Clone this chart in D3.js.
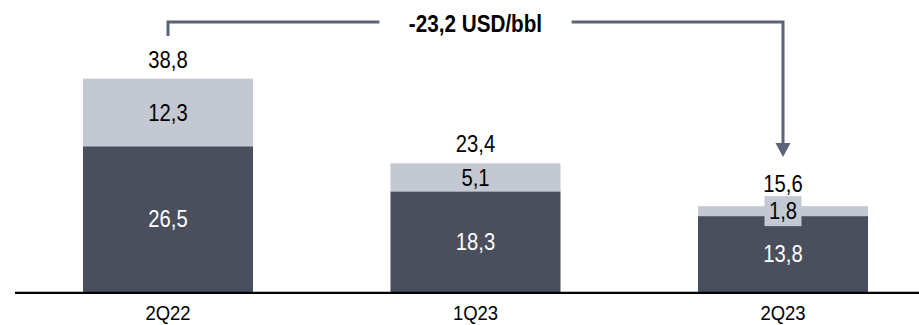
<!DOCTYPE html>
<html><head><meta charset="utf-8">
<script src="https://cdn.jsdelivr.net/npm/d3@7"></script>
<style>
html,body{margin:0;padding:0;background:#fff;}
text{font-family:"Liberation Sans",Arial,sans-serif;}
</style></head>
<body>
<svg id="chart" width="919" height="325"></svg>
<script>
const categories = ["2Q22", "1Q23", "2Q23"];
const baseValues = [26.5, 18.3, 13.8];
const topValues = [12.3, 5.1, 1.8];
const totalValues = [38.8, 23.4, 15.6];
const annotationText = "-23,2 USD/bbl";

const fmt = v => d3.format(".1f")(v).replace(".", ",");
const darkColor = "#4a4f5e", lightColor = "#c4c8d2", lineColor = "#5b6376";
const SX = 0.88, FS = 23, CAP = FS * 0.716;

const svg = d3.select("#chart");
const x = d3.scaleBand().domain(categories).range([14.25, 936.75]).paddingInner(0.447).paddingOuter(0.2235);
const y = d3.scaleLinear().domain([0, 40]).range([292, 72]);
const cx = c => x(c) + x.bandwidth() / 2;

const data = categories.map((c, i) => ({c, base: baseValues[i], top: topValues[i], total: totalValues[i]}));

function label(px, baseline, txt, opts = {}) {
  return svg.append("text")
    .attr("transform", `translate(${px},${baseline}) scale(${SX},1)`)
    .attr("text-anchor", "middle")
    .attr("font-size", opts.size || FS)
    .attr("font-weight", opts.weight || "normal")
    .attr("fill", opts.fill || "#000")
    .text(txt);
}

// bars
const g = svg.append("g");
g.selectAll("rect.base").data(data).join("rect").attr("class", "base")
  .attr("x", d => x(d.c)).attr("width", x.bandwidth())
  .attr("y", d => y(d.base)).attr("height", d => y(0) - y(d.base))
  .attr("fill", darkColor);
g.selectAll("rect.top").data(data).join("rect").attr("class", "top")
  .attr("x", d => x(d.c)).attr("width", x.bandwidth())
  .attr("y", d => y(d.base + d.top)).attr("height", d => y(d.base) - y(d.base + d.top))
  .attr("fill", lightColor);

// labels
data.forEach(d => {
  const bx = cx(d.c);
  label(bx, (y(0) + y(d.base)) / 2 + CAP / 2, fmt(d.base), {fill: "#fff"});
  const segH = y(d.base) - y(d.base + d.top);
  const segC = (y(d.base) + y(d.base + d.top)) / 2;
  let totalBaseline = y(d.base + d.top) - 11;
  if (segH < 26) {
    const bw = 37, bh = 30;
    svg.append("rect").attr("x", bx - bw / 2).attr("y", segC - bh / 2).attr("width", bw).attr("height", bh).attr("fill", lightColor);
    totalBaseline = segC - bh / 2 - 4;
  }
  label(bx, segC + CAP / 2, fmt(d.top));
  label(bx, totalBaseline, fmt(d.total));
});

// axis
const axis = svg.append("g").attr("transform", `translate(0,${y(0)})`)
  .call(d3.axisBottom(x).tickSize(0));
axis.select(".domain").remove();
axis.selectAll("text")
  .attr("y", 28.5).attr("dy", null)
  .attr("transform", `scale(${SX},1)`)
  .attr("font-size", 21).attr("fill", "#000")
  .style("font-family", '"Liberation Sans",Arial,sans-serif');
svg.append("line").attr("x1", 15).attr("x2", 919).attr("y1", y(0) + 0.9).attr("y2", y(0) + 0.9)
  .attr("stroke", "#000").attr("stroke-width", 2.2);

// annotation bracket
const x1 = cx(categories[0]), x3 = cx(categories[2]);
const mid = (x1 + x3) / 2, lineY = 22;
const t = label(mid, 32, annotationText, {size: 23.5, weight: "bold"});
const tw = t.node().getComputedTextLength() * SX;
const gap = 29.5;
const tipY = 157;
svg.append("path").attr("d", `M${x1},36V${lineY}H${mid - tw / 2 - gap}M${mid + tw / 2 + gap},${lineY}H${x3}V${tipY - 13}`)
  .attr("fill", "none").attr("stroke", lineColor).attr("stroke-width", 3);
svg.append("path").attr("d", `M${x3 - 7.5},${tipY - 14}L${x3 + 7.5},${tipY - 14}L${x3},${tipY}Z`).attr("fill", lineColor);
</script>
</body></html>
